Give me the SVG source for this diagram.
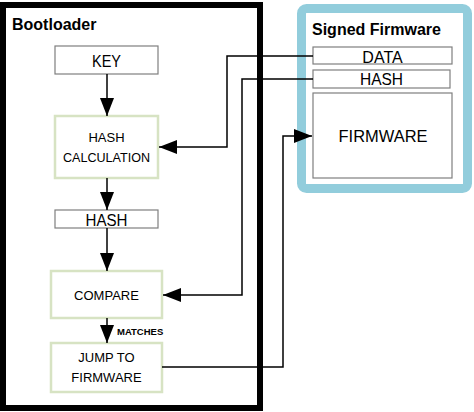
<svg xmlns="http://www.w3.org/2000/svg" width="474" height="412" viewBox="0 0 474 412">
<style>
text{font-family:"Liberation Sans",Arial,sans-serif;fill:#000;text-anchor:middle}
.title{font-weight:bold;font-size:16px;text-anchor:start}
.gray{fill:#fff;stroke:#7f7f7f;stroke-width:1.2}
.green{fill:#fff;stroke:#d7e3c3;stroke-width:2.5}
.t16{font-size:16px}
.t13{font-size:13px}
.conn{fill:none;stroke:#000;stroke-width:1.5}
</style>
<defs>
<marker id="ahv" markerWidth="18" markerHeight="14" refX="18" refY="7" orient="auto" markerUnits="userSpaceOnUse">
<path d="M0,0 L18,7 L0,14 Z" fill="#000"/>
</marker>
</defs>
<rect x="0" y="0" width="474" height="412" fill="#fff"/>

<g id="bootloader">
<rect x="3" y="5" width="257" height="403" fill="#fff" stroke="#000" stroke-width="6"/>
<text class="title" x="12" y="30">Bootloader</text>
</g>

<g id="signed-firmware">
<rect x="301.5" y="8.5" width="166" height="180" rx="5" fill="#fff" stroke="#92cddc" stroke-width="9"/>
<text class="title" x="312" y="35">Signed Firmware</text>
</g>

<g id="key">
<rect class="gray" x="55" y="46" width="103" height="28"/>
<text class="t16" x="106.5" y="67" textLength="29" lengthAdjust="spacingAndGlyphs">KEY</text>
</g>

<g id="hash-calc">
<rect class="green" x="55" y="116" width="103" height="62"/>
<text class="t13" x="106.5" y="142">HASH</text>
<text class="t13" x="106.5" y="162" textLength="87" lengthAdjust="spacingAndGlyphs">CALCULATION</text>
</g>

<g id="hash-bl">
<rect class="gray" x="55" y="210" width="103" height="18"/>
<text class="t16" x="106.5" y="226" textLength="42" lengthAdjust="spacingAndGlyphs">HASH</text>
</g>

<g id="compare">
<rect class="green" x="51" y="271" width="111" height="47"/>
<text class="t13" x="106.5" y="300">COMPARE</text>
</g>

<g id="jump">
<rect class="green" x="51" y="343" width="111" height="49"/>
<text class="t13" x="106.5" y="362">JUMP TO</text>
<text class="t13" x="106.5" y="382">FIRMWARE</text>
</g>

<g id="data">
<rect class="gray" x="313" y="47" width="139" height="17"/>
<text class="t16" x="382.5" y="62.5">DATA</text>
</g>

<g id="hash-fw">
<rect class="gray" x="313" y="70" width="137" height="18"/>
<text class="t16" x="381.5" y="85" textLength="43" lengthAdjust="spacingAndGlyphs">HASH</text>
</g>

<g id="firmware">
<rect class="gray" x="313" y="93" width="139" height="85"/>
<text class="t16" x="383" y="141.5" textLength="89" lengthAdjust="spacingAndGlyphs">FIRMWARE</text>
</g>

<g id="connectors">
<path class="conn" d="M107,74 V116" marker-end="url(#ahv)"/>
<path class="conn" d="M107,178 V210" marker-end="url(#ahv)"/>
<path class="conn" d="M107,228 V271" marker-end="url(#ahv)"/>
<path class="conn" d="M107,318 V343" marker-end="url(#ahv)"/>
<path class="conn" d="M313,56 H227 V147 H159" marker-end="url(#ahv)"/>
<path class="conn" d="M313,79 H242 V295 H163" marker-end="url(#ahv)"/>
<path class="conn" d="M162,367 H283 V136 H312" marker-end="url(#ahv)"/>
<text x="117" y="335" style="font-size:9.5px;font-weight:bold;text-anchor:start">MATCHES</text>
</g>
</svg>
